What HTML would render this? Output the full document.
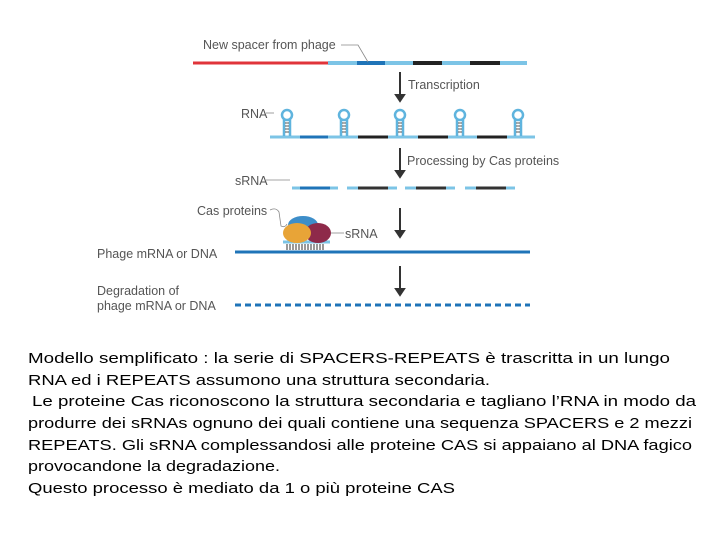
<!DOCTYPE html>
<html><head><meta charset="utf-8"><style>
html,body{margin:0;padding:0;background:#fff;}
svg{display:block;}
</style></head><body>
<svg width="720" height="540" viewBox="0 0 720 540" xmlns="http://www.w3.org/2000/svg">
<g font-family="Liberation Sans, sans-serif" font-size="12.5" fill="#555">
<line x1="193" y1="63" x2="328" y2="63" stroke="#e0343a" stroke-width="3"/>
<g stroke-width="4">
<line x1="328" y1="63" x2="357" y2="63" stroke="#7cc4e6"/>
<line x1="357" y1="63" x2="385" y2="63" stroke="#1f74b8"/>
<line x1="385" y1="63" x2="413" y2="63" stroke="#7cc4e6"/>
<line x1="413" y1="63" x2="442" y2="63" stroke="#222"/>
<line x1="442" y1="63" x2="470" y2="63" stroke="#7cc4e6"/>
<line x1="470" y1="63" x2="500" y2="63" stroke="#222"/>
<line x1="500" y1="63" x2="527" y2="63" stroke="#7cc4e6"/>
</g>
<text x="203" y="49">New spacer from phage</text>
<polyline points="341,45 358,45 368,62" fill="none" stroke="#888" stroke-width="0.8"/>

<g stroke="#333" stroke-width="2" fill="#333">
<line x1="400" y1="72" x2="400" y2="96"/><polygon points="396,95 404,95 400,101"/>
<line x1="400" y1="148" x2="400" y2="172"/><polygon points="396,171 404,171 400,177"/>
<line x1="400" y1="208" x2="400" y2="232"/><polygon points="396,231 404,231 400,237"/>
<line x1="400" y1="266" x2="400" y2="290"/><polygon points="396,289 404,289 400,295"/>
</g>
<text x="408" y="89">Transcription</text>
<text x="407" y="165">Processing by Cas proteins</text>

<text x="241" y="118">RNA</text>
<line x1="266" y1="113" x2="274" y2="113" stroke="#888" stroke-width="0.8"/>
<line x1="270" y1="137" x2="535" y2="137" stroke="#7cc4e6" stroke-width="3"/>
<g stroke-width="3">
<line x1="300" y1="137" x2="328" y2="137" stroke="#1f74b8"/>
<line x1="358" y1="137" x2="388" y2="137" stroke="#222"/>
<line x1="418" y1="137" x2="448" y2="137" stroke="#222"/>
<line x1="477" y1="137" x2="507" y2="137" stroke="#222"/>
</g>
<g fill="none" stroke="#5fb4de" stroke-width="2.5">
<circle cx="287" cy="115" r="5"/><circle cx="344" cy="115" r="5"/><circle cx="400" cy="115" r="5"/><circle cx="460" cy="115" r="5"/><circle cx="518" cy="115" r="5"/>
<path d="M284 119 V136 M290 119 V136 M341 119 V136 M347 119 V136 M397 119 V136 M403 119 V136 M457 119 V136 M463 119 V136 M515 119 V136 M521 119 V136"/>
</g>
<g stroke="#222" stroke-width="0.8">
<path d="M285 123h4M285 126h4M285 129h4M285 132h4 M342 123h4M342 126h4M342 129h4M342 132h4 M398 123h4M398 126h4M398 129h4M398 132h4 M458 123h4M458 126h4M458 129h4M458 132h4 M516 123h4M516 126h4M516 129h4M516 132h4"/>
</g>

<text x="235" y="185">sRNA</text>
<line x1="266" y1="180" x2="290" y2="180" stroke="#888" stroke-width="0.8"/>
<g stroke-width="3">
<line x1="292" y1="188" x2="338" y2="188" stroke="#7cc4e6"/><line x1="300" y1="188" x2="330" y2="188" stroke="#1f74b8"/>
<line x1="347" y1="188" x2="397" y2="188" stroke="#7cc4e6"/><line x1="358" y1="188" x2="388" y2="188" stroke="#333"/>
<line x1="405" y1="188" x2="455" y2="188" stroke="#7cc4e6"/><line x1="416" y1="188" x2="446" y2="188" stroke="#333"/>
<line x1="465" y1="188" x2="515" y2="188" stroke="#7cc4e6"/><line x1="476" y1="188" x2="506" y2="188" stroke="#333"/>
</g>

<text x="197" y="215">Cas proteins</text>
<path d="M270 210 q6 -3 9 2 l2 14 q4 2 6 -2" fill="none" stroke="#888" stroke-width="0.8"/>
<line x1="283" y1="242" x2="330" y2="242" stroke="#7cc4e6" stroke-width="3"/>
<path d="M287 244v6M290 244v6M293 244v6M296 244v6M299 244v6M302 244v6M305 244v6M308 244v6M311 244v6M314 244v6M317 244v6M320 244v6M323 244v6" stroke="#333" stroke-width="1"/>
<ellipse cx="303" cy="225" rx="15" ry="9" fill="#3d8ec9"/>
<ellipse cx="318" cy="233" rx="13" ry="10" fill="#8e2a4a"/>
<ellipse cx="297" cy="233" rx="14" ry="10" fill="#e8a437"/>
<text x="345" y="238">sRNA</text>
<line x1="331" y1="233" x2="344" y2="233" stroke="#888" stroke-width="0.8"/>

<text x="97" y="258">Phage mRNA or DNA</text>
<line x1="235" y1="252" x2="530" y2="252" stroke="#1f74b8" stroke-width="3"/>
<text x="97" y="295">Degradation of</text>
<text x="97" y="310">phage mRNA or DNA</text>
<line x1="235" y1="305" x2="530" y2="305" stroke="#1f74b8" stroke-width="3" stroke-dasharray="6,4"/>
</g>

<g font-family="Comic Sans MS, Liberation Sans, DejaVu Sans, sans-serif" font-size="15" fill="#000">
<text x="28" y="363" textLength="642" lengthAdjust="spacingAndGlyphs">Modello semplificato : la serie di SPACERS-REPEATS è trascritta in un lungo</text>
<text x="28" y="385" textLength="462" lengthAdjust="spacingAndGlyphs">RNA ed i REPEATS assumono una struttura secondaria.</text>
<text x="32" y="406" textLength="664" lengthAdjust="spacingAndGlyphs">Le proteine Cas riconoscono la struttura secondaria e tagliano l’RNA in modo da</text>
<text x="28" y="428" textLength="664" lengthAdjust="spacingAndGlyphs">produrre dei sRNAs ognuno dei quali contiene una sequenza SPACERS e 2 mezzi</text>
<text x="28" y="450" textLength="664" lengthAdjust="spacingAndGlyphs">REPEATS. Gli sRNA complessandosi alle proteine CAS si appaiano al DNA fagico</text>
<text x="28" y="471" textLength="252" lengthAdjust="spacingAndGlyphs">provocandone la degradazione.</text>
<text x="28" y="493" textLength="427" lengthAdjust="spacingAndGlyphs">Questo processo è mediato da 1 o più proteine CAS</text>
</g>
</svg>
</body></html>
